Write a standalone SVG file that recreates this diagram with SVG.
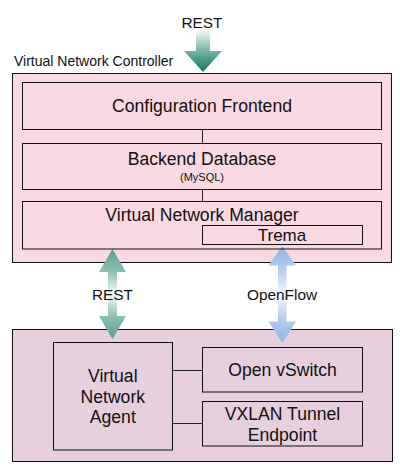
<svg xmlns="http://www.w3.org/2000/svg" width="400" height="471" viewBox="0 0 400 471">
<defs>
<linearGradient id="gTop" x1="0" y1="0" x2="0" y2="1">
<stop offset="0" stop-color="#f2f8f6"/>
<stop offset="0.45" stop-color="#7fb8aa"/>
<stop offset="1" stop-color="#0d7560"/>
</linearGradient>
<linearGradient id="gTeal" x1="0" y1="0" x2="0" y2="1">
<stop offset="0" stop-color="#5a9f8f"/>
<stop offset="0.25" stop-color="#8cc0b3"/>
<stop offset="0.5" stop-color="#f4faf8"/>
<stop offset="0.75" stop-color="#8cc0b3"/>
<stop offset="1" stop-color="#5a9f8f"/>
</linearGradient>
<linearGradient id="gBlue" x1="0" y1="0" x2="0" y2="1">
<stop offset="0" stop-color="#8fb4e3"/>
<stop offset="0.25" stop-color="#b3cdee"/>
<stop offset="0.5" stop-color="#f6f9fe"/>
<stop offset="0.75" stop-color="#b3cdee"/>
<stop offset="1" stop-color="#8fb4e3"/>
</linearGradient>
</defs>
<style>
text{font-family:"Liberation Sans",Arial,sans-serif;fill:#111;}
.box{stroke:#111;stroke-width:1;}
.ctl{fill:#fad9e3;}
.host{fill:#e7cfdd;}
.inner{fill:none;stroke:#111;stroke-width:1;}
.big{font-size:17.6px;text-anchor:middle;}
.lbl{font-size:15.4px;text-anchor:middle;}
.conn{stroke:#222;stroke-width:1;fill:none;}
</style>

<g id="controller">
<rect class="box ctl" x="12.5" y="73.5" width="379" height="189"/>
<text x="14" y="66" style="font-size:14px">Virtual Network Controller</text>
</g>
<g id="host">
<rect class="box host" x="12.5" y="329.5" width="380" height="132"/>
</g>

<g id="connectors">
<line class="conn" x1="202.5" y1="129.5" x2="202.5" y2="143.5"/>
<line class="conn" x1="202.5" y1="189.5" x2="202.5" y2="201.5"/>
<line class="conn" x1="172.5" y1="370.5" x2="202.5" y2="370.5"/>
<line class="conn" x1="172.5" y1="423.5" x2="202.5" y2="423.5"/>
<path d="M196,31 H210 V51 H222 L203,72 L184,51 H196 Z" fill="url(#gTop)"/>
<path d="M112.5,249 L126,272 H117 V316 H126 L112.5,339 L99,316 H108 V272 H99 Z" fill="url(#gTeal)"/>
<path d="M282.3,246 L296,265.5 H286.5 V321.5 H296 L282.3,343 L268.5,321.5 H278 V265.5 H268.5 Z" fill="url(#gBlue)"/>
<text class="lbl" x="202" y="28">REST</text>
<text class="lbl" x="112.5" y="300">REST</text>
<text class="lbl" x="282" y="300">OpenFlow</text>
</g>

<g id="config-frontend">
<rect class="inner" x="22.5" y="82.5" width="359" height="47"/>
<text class="big" x="202" y="112">Configuration Frontend</text>
</g>
<g id="backend-db">
<rect class="inner" x="22.5" y="143.5" width="359" height="46"/>
<text class="big" x="202" y="165">Backend Database</text>
<text x="202" y="180.5" style="font-size:11px;text-anchor:middle">(MySQL)</text>
</g>
<g id="vnm">
<rect class="inner" x="22.5" y="201.5" width="359" height="47.5"/>
<text class="big" x="202" y="221">Virtual Network Manager</text>
</g>
<g id="trema">
<rect class="inner" x="202.5" y="225.5" width="160" height="19"/>
<text class="big" x="282" y="240.5" style="font-size:17px">Trema</text>
</g>

<g id="agent">
<rect class="inner" x="53.5" y="342.5" width="119" height="107.5"/>
<text class="big" x="112.8" y="381.5">Virtual</text>
<text class="big" x="112.8" y="402.5">Network</text>
<text class="big" x="112.8" y="423.3">Agent</text>
</g>
<g id="ovs">
<rect class="inner" x="202.5" y="347.5" width="160" height="44.5"/>
<text class="big" x="282.5" y="375.7">Open vSwitch</text>
</g>
<g id="vxlan">
<rect class="inner" x="202.5" y="401.5" width="160" height="44.5"/>
<text class="big" x="282.5" y="420">VXLAN Tunnel</text>
<text class="big" x="282.5" y="440.7">Endpoint</text>
</g>
</svg>
